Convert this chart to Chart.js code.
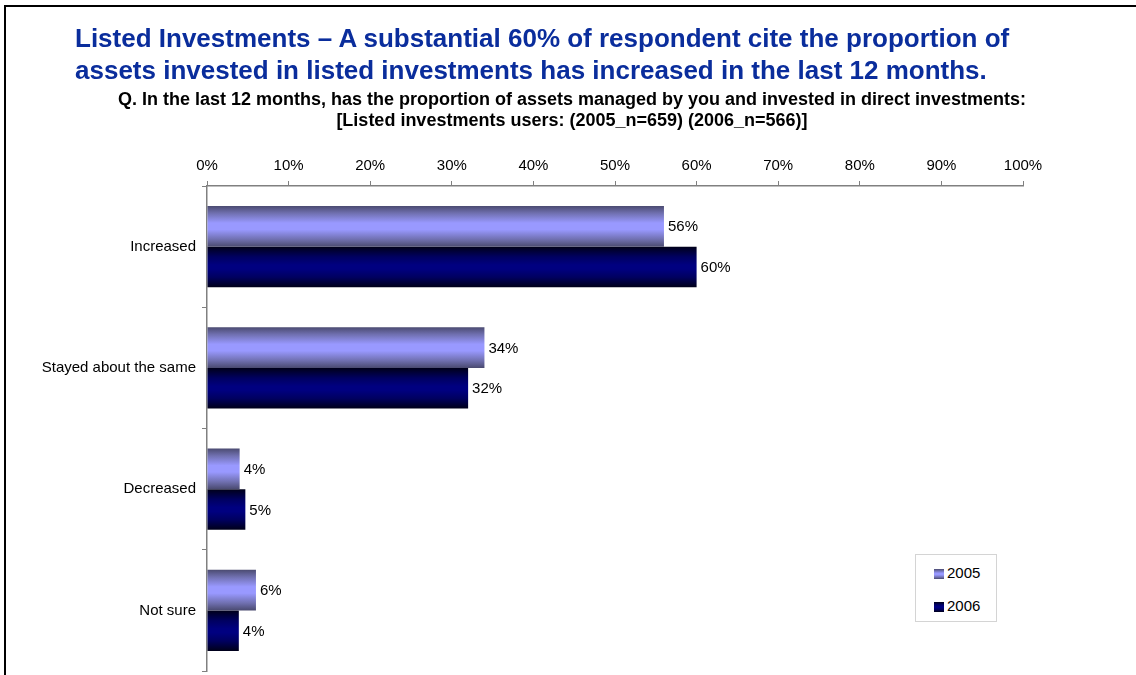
<!DOCTYPE html>
<html>
<head>
<meta charset="utf-8">
<script src="https://cdn.jsdelivr.net/npm/chart.js@4/dist/chart.umd.min.js"></script>
<style>
  body { margin: 0; background: #fff; font-family: Arial, 'Liberation Sans', sans-serif; }
  #page { position: relative; width: 1136px; height: 675px; overflow: hidden; background: #fff; }
  #frame { position: absolute; left: 4px; top: 5px; right: -10px; bottom: -10px;
    border-left: 2px solid #000; border-top: 2px solid #000; }
  #title { position: absolute; left: 75px; top: 22px; width: 1050px;
    color: #0a2d9c; font-weight: bold; font-size: 26px; line-height: 32px; white-space: nowrap; }
  #subtitle { position: absolute; left: 0; width: 1144px; top: 89px; text-align: center;
    color: #000; font-weight: bold; font-size: 18px; line-height: 21px; white-space: nowrap; }
  #chart { position: absolute; left: 0; top: 0; }
  #legend { position: absolute; left: 915px; top: 554px; width: 80px; height: 66px;
    border: 1px solid #d4d4d4; background: #fff; font-size: 15px; color: #000; }
  .item { position: absolute; left: 18px; height: 18px; line-height: 18px; white-space: nowrap; }
  .sw { display: inline-block; width: 10px; height: 10px; margin-right: 3px; vertical-align: -1px; }
</style>
</head>
<body>
<div id="page">
  <div id="frame"></div>
  <canvas id="chart" width="1136" height="686"></canvas>
  <div id="title">Listed Investments – A substantial 60% of respondent cite the proportion of<br>assets invested in listed investments has increased in the last 12 months.</div>
  <div id="subtitle">Q. In the last 12 months, has the proportion of assets managed by you and invested in direct investments:<br>[Listed investments users: (2005_n=659) (2006_n=566)]</div>
  <div id="legend"></div>
</div>
<script>
const categories = ['Increased', 'Stayed about the same', 'Decreased', 'Not sure'];
const seriesNames = ['2005', '2006'];
const values2005 = [56, 34, 4, 6];
const values2006 = [60, 32, 4.7, 3.9];

// vertical gradient stops for each series (light band in the middle)
const barStops = [
  [[0, '#4a4a70'], [0.18, '#7070b0'], [0.42, '#9999ff'], [0.58, '#9999ff'], [0.82, '#7070b0'], [1, '#4a4a70']],
  [[0, '#000018'], [0.25, '#000060'], [0.45, '#000080'], [0.55, '#000080'], [0.75, '#000060'], [1, '#000018']]
];
const flatColors = ['#9999ff', '#000080'];

const FONT = "Arial, 'Liberation Sans', sans-serif";

const gradientBars = {
  id: 'gradientBars',
  beforeDatasetsDraw(chart) {
    const ctx = chart.ctx;
    chart.data.datasets.forEach((ds, i) => {
      chart.getDatasetMeta(i).data.forEach((el) => {
        const { y, height } = el.getProps(['y', 'height'], true);
        const g = ctx.createLinearGradient(0, y - height / 2, 0, y + height / 2);
        barStops[i].forEach(([p, c]) => g.addColorStop(p, c));
        el.options = Object.assign({}, el.options, { backgroundColor: g });
      });
    });
  }
};

const valueLabels = {
  id: 'valueLabels',
  afterDatasetsDraw(chart) {
    const ctx = chart.ctx;
    ctx.save();
    ctx.font = '15px ' + FONT;
    ctx.fillStyle = '#000';
    ctx.textBaseline = 'middle';
    ctx.textAlign = 'left';
    chart.data.datasets.forEach((ds, i) => {
      chart.getDatasetMeta(i).data.forEach((el, j) => {
        const { x, y } = el.getProps(['x', 'y'], true);
        ctx.fillText(Math.round(ds.data[j]) + '%', x + 4, y + 1);
      });
    });
    ctx.restore();
  }
};

new Chart(document.getElementById('chart').getContext('2d'), {
  type: 'bar',
  data: {
    labels: categories,
    datasets: [
      { label: seriesNames[0], data: values2005, backgroundColor: flatColors[0] },
      { label: seriesNames[1], data: values2006, backgroundColor: flatColors[1] }
    ]
  },
  options: {
    indexAxis: 'y',
    responsive: false,
    animation: false,
    events: [],
    layout: { padding: { left: 0, top: 0, right: 113, bottom: 2 } },
    datasets: { bar: { categoryPercentage: 0.672, barPercentage: 1 } },
    plugins: {
      legend: { display: false },
      tooltip: { enabled: false }
    },
    scales: {
      x: {
        position: 'top',
        min: 0,
        max: 100,
        afterFit: (s) => { s.height = 186; },
        ticks: {
          stepSize: 10,
          callback: (v) => v + '%',
          color: '#000',
          padding: 6,
          font: { family: FONT, size: 15 }
        },
        grid: { drawOnChartArea: false, tickLength: 5, color: '#808080' },
        border: { color: '#808080', width: 1.5 }
      },
      y: {
        afterFit: (s) => { s.width = 207; },
        ticks: {
          color: '#000',
          padding: 6,
          font: { family: FONT, size: 15 }
        },
        grid: { drawOnChartArea: false, tickLength: 5, offset: true, color: '#808080' },
        border: { color: '#808080', width: 1.5 }
      }
    }
  },
  plugins: [gradientBars, valueLabels]
});

// legend built from the series names
const legend = document.getElementById('legend');
seriesNames.forEach((name, i) => {
  const item = document.createElement('div');
  item.className = 'item';
  item.style.top = (i === 0 ? 9 : 42) + 'px';
  const sw = document.createElement('span');
  sw.className = 'sw';
  const css = barStops[i].map(([p, c]) => c + ' ' + (p * 100) + '%').join(', ');
  sw.style.background = 'linear-gradient(to bottom, ' + css + ')';
  item.appendChild(sw);
  item.appendChild(document.createTextNode(name));
  legend.appendChild(item);
});
</script>
</body>
</html>
